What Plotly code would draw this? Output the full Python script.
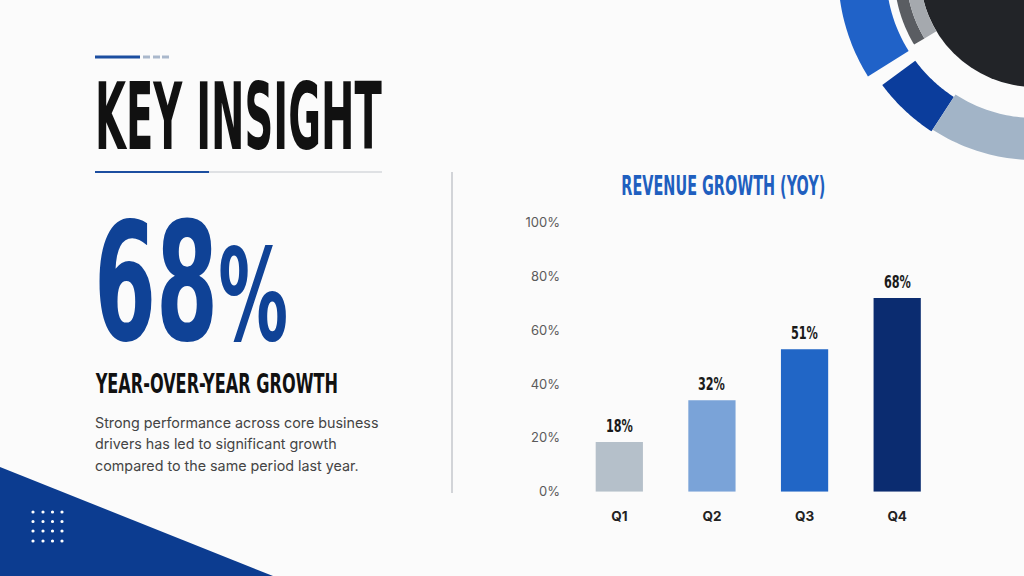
import json
import numpy as np
import plotly.graph_objects as go

# chart data
quarters = ["Q1", "Q2", "Q3", "Q4"]
bar_values = [18.5, 34, 53, 72]
bar_labels = ["18%", "32%", "51%", "68%"]
bar_colors = ["#b5c0ca", "#7aa3d8", "#2166c6", "#0b2c70"]
y_ticks = [0, 20, 40, 60, 80, 100]
y_tick_text = ["0%", "20%", "40%", "60%", "80%", "100%"]

headline = "KEY INSIGHT"
big_number = "68"
subhead = "YEAR-OVER-YEAR GROWTH"
body_lines = [
    "Strong performance across core business",
    "drivers has led to significant growth",
    "compared to the same period last year.",
]
chart_title = "REVENUE GROWTH (YOY)"

W, H = 1024, 576
COND = "DejaVu Sans Condensed, DejaVu Sans, sans-serif"
SANS = "Inter, Roboto, sans-serif"


def px(x):
    return x / W


def py(y):
    return 1 - y / H


def ring_path(cx, cy, r0, r1, a0, a1, n=40):
    # annulus sector in pixel coords (y down), returned in paper coords
    t = np.deg2rad(np.linspace(a0, a1, n))
    outer = [(cx + r1 * np.cos(a), cy + r1 * np.sin(a)) for a in t]
    inner = [(cx + r0 * np.cos(a), cy + r0 * np.sin(a)) for a in t[::-1]]
    pts = outer + inner
    return "M " + " L ".join(f"{px(x):.5f},{py(y):.5f}" for x, y in pts) + " Z"


shapes = []

# top-right decoration
cx, cy = 1035, -28
shapes.append(dict(type="circle", xref="paper", yref="paper",
                   x0=px(cx - 115), x1=px(cx + 115), y0=py(cy + 115), y1=py(cy - 115),
                   fillcolor="#222428", line_width=0))
shapes.append(dict(type="path", xref="paper", yref="paper",
                   path=ring_path(cx, cy, 129, 141, 149, 185), fillcolor="#5a5d62", line_width=0))
shapes.append(dict(type="path", xref="paper", yref="paper",
                   path=ring_path(cx, cy, 115, 129, 149, 185), fillcolor="#a5a9ae", line_width=0))
shapes.append(dict(type="path", xref="paper", yref="paper",
                   path=ring_path(cx, cy, 149, 197, 148, 185), fillcolor="#2062c8", line_width=0))
shapes.append(dict(type="path", xref="paper", yref="paper",
                   path=ring_path(cx, cy, 149, 190, 123, 143.5), fillcolor="#0b3d9c", line_width=0))
shapes.append(dict(type="path", xref="paper", yref="paper",
                   path=ring_path(cx, cy, 146, 188, 70, 123), fillcolor="#a2b4c7", line_width=0))

# header accents
shapes.append(dict(type="line", xref="paper", yref="paper",
                   x0=px(95), x1=px(140), y0=py(57), y1=py(57), line=dict(color="#1c4ea0", width=3)))
for x0 in [143, 153, 162]:
    shapes.append(dict(type="line", xref="paper", yref="paper",
                       x0=px(x0), x1=px(x0 + 7), y0=py(57), y1=py(57), line=dict(color="#aab8cc", width=3)))
shapes.append(dict(type="line", xref="paper", yref="paper",
                   x0=px(209), x1=px(382), y0=py(172), y1=py(172), line=dict(color="#d6d8dc", width=1.5)))
shapes.append(dict(type="line", xref="paper", yref="paper",
                   x0=px(95), x1=px(209), y0=py(172), y1=py(172), line=dict(color="#1c4ea0", width=2)))

# divider
shapes.append(dict(type="line", xref="paper", yref="paper",
                   x0=px(452), x1=px(452), y0=py(172), y1=py(493), line=dict(color="#d2d4d8", width=2)))

# bottom-left triangle with dot grid
shapes.append(dict(type="path", xref="paper", yref="paper",
                   path=f"M {px(0)},{py(467)} L {px(278)},{py(578)} L {px(0)},{py(578)} Z",
                   fillcolor="#0c3c90", line_width=0))
for dx in [33, 43, 52.5, 62]:
    for dy in [512, 521.5, 531, 541]:
        shapes.append(dict(type="circle", xref="paper", yref="paper",
                           x0=px(dx - 1.6), x1=px(dx + 1.6), y0=py(dy + 1.6), y1=py(dy - 1.6),
                           fillcolor="white", line_width=0))

# annotations; fits[i] = [target width px, origin] squeezes a text to a condensed look
annotations = []
fits = {}


def add_text(text, x, y, font, xanchor="left", yanchor="middle", fit=None, **kw):
    if fit:
        fits[len(annotations)] = fit
    annotations.append(dict(text=text, x=x, y=y, xanchor=xanchor, yanchor=yanchor,
                            font=font, showarrow=False, **kw))


add_text(headline, px(93), py(117), dict(family=COND, size=92, color="#111111", weight="bold"),
         fit=[287, "left"], xref="paper", yref="paper")
add_text(big_number + "<span style='font-size:128px'>%</span>", px(92), py(283),
         dict(family=COND, size=164, color="#0f4296", weight="bold"),
         fit=[194, "left"], xref="paper", yref="paper")
add_text(subhead, px(93), py(383), dict(family=COND, size=27, color="#111111", weight="bold"),
         fit=[243, "left"], xref="paper", yref="paper")
add_text(chart_title, px(723.5), py(186), dict(family=COND, size=26, color="#1f5fbf", weight="bold"),
         xanchor="center", fit=[204, "center"], xref="paper", yref="paper")
for i, line in enumerate(body_lines):
    add_text(line, px(93), py(423 + 21 * i), dict(family=SANS, size=14.3, color="#444444"),
             xref="paper", yref="paper")
for q, v, lab in zip(quarters, bar_values, bar_labels):
    add_text(lab, q, v, dict(family=COND, size=18, color="#1a1a1a", weight="bold"),
             xanchor="center", yanchor="bottom", yshift=4, fit=[27, "center"], xref="x", yref="y")

fig = go.Figure(go.Bar(
    x=quarters, y=bar_values,
    marker=dict(color=bar_colors, line_width=0),
    hoverinfo="skip",
))

fig.update_layout(
    width=W, height=H,
    margin=dict(l=0, r=0, t=0, b=0),
    paper_bgcolor="#fbfbfb", plot_bgcolor="rgba(0,0,0,0)",
    showlegend=False,
    bargap=0.49,
    shapes=shapes,
    annotations=annotations,
    xaxis=dict(domain=[px(573), px(943.5)], showgrid=False, zeroline=False, showline=False,
               ticks="", ticklabelstandoff=15, automargin=False, fixedrange=True,
               tickfont=dict(family=SANS, size=13.5, color="#222222", weight="bold")),
    yaxis=dict(domain=[py(491.7), py(222.7)], range=[0, 100], tickvals=y_ticks, ticktext=y_tick_text,
               showgrid=False, zeroline=False, showline=False, ticks="", ticklabelstandoff=12,
               automargin=False, fixedrange=True, tickfont=dict(family=SANS, size=13, color="#5a5a5a")),
)

post_js = (
    "var fits = " + json.dumps(fits) + ";\n"
    "document.body.style.margin = '0';\n"
    "var gd = document.getElementById('{plot_id}');\n"
    "gd.querySelectorAll('g.annotation').forEach(function(g){\n"
    "  var f = fits[g.getAttribute('data-index')];\n"
    "  if (!f) return;\n"
    "  var el = g.querySelector('text.annotation-text');\n"
    "  var w = el.getBBox().width;\n"
    "  el.style.transformBox = 'fill-box';\n"
    "  el.style.transformOrigin = f[1] + ' center';\n"
    "  el.style.transform = 'scaleX(' + (f[0] / w) + ')';\n"
    "});\n"
)

fig.write_html("out.html", post_script=post_js, config={"displayModeBar": False})
